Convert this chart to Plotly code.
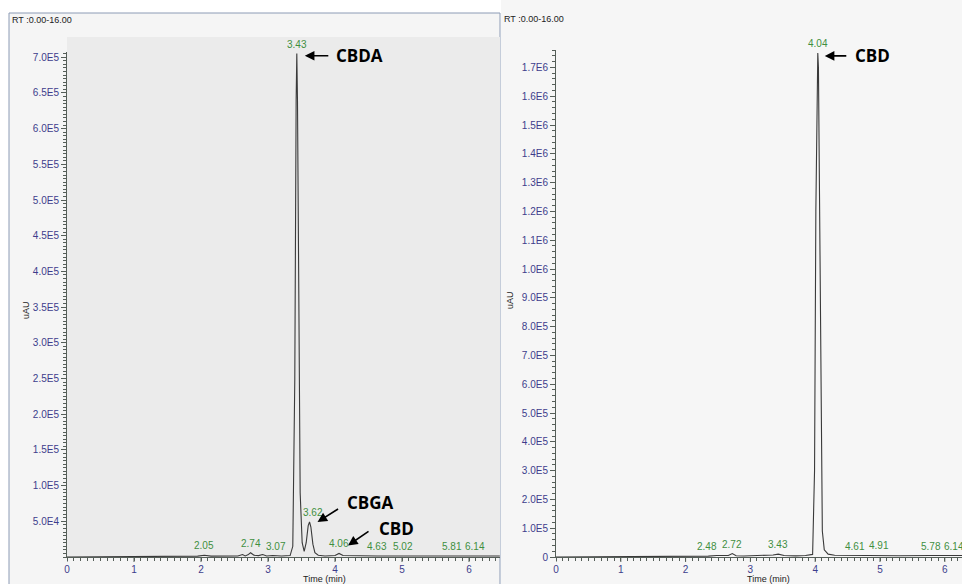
import numpy as np
import plotly.graph_objects as go

W, H = 962, 584

# ---- chromatogram A (acid-form extract) ----
left_time = [0.0, 1.5, 1.95, 2.05, 2.15, 2.55, 2.62, 2.66, 2.70, 2.74, 2.79, 2.86, 2.92, 2.98,
             3.07, 3.20, 3.33, 3.37, 3.40, 3.42, 3.43, 3.44, 3.46, 3.48, 3.51, 3.54, 3.57, 3.60,
             3.62, 3.64, 3.67, 3.70, 3.75, 3.85, 4.00, 4.06, 4.12, 4.30, 4.63, 5.02, 5.50, 5.81,
             6.14, 6.46]
left_uau = [0, 500, 1200, 2500, 1200, 1500, 3500, 1500, 3000, 6000, 2500, 2000, 3500, 1500,
            2000, 1500, 2000, 15000, 250000, 640000, 705000, 640000, 300000, 90000, 20000, 8000,
            20000, 44000, 49000, 42000, 18000, 6000, 2500, 1500, 2000, 5000, 2000, 1500, 1500,
            1500, 1500, 1500, 1500, 1500]
left_peaks = [2.05, 2.74, 3.07, 3.43, 3.62, 4.06, 4.63, 5.02, 5.81, 6.14]
left_ytickvals = [5e4, 1e5, 1.5e5, 2e5, 2.5e5, 3e5, 3.5e5, 4e5, 4.5e5, 5e5, 5.5e5, 6e5, 6.5e5, 7e5]
left_yticktext = ["5.0E4", "1.0E5", "1.5E5", "2.0E5", "2.5E5", "3.0E5", "3.5E5", "4.0E5",
                  "4.5E5", "5.0E5", "5.5E5", "6.0E5", "6.5E5", "7.0E5"]

# ---- chromatogram B (decarboxylated extract) ----
right_time = [0.0, 1.5, 2.0, 2.2, 2.35, 2.48, 2.60, 2.66, 2.72, 2.78, 2.90, 3.05, 3.20, 3.35,
              3.43, 3.52, 3.70, 3.85, 3.96, 3.99, 4.01, 4.03, 4.04, 4.05, 4.07, 4.09, 4.11, 4.14,
              4.20, 4.30, 4.61, 4.91, 5.30, 5.78, 6.14, 6.27]
right_uau = [0, 1000, 2500, 4000, 3000, 5000, 3500, 5000, 12000, 4500, 3500, 5000, 4000, 7000,
             10000, 5000, 4000, 5000, 9000, 300000, 1200000, 1700000, 1750000, 1700000, 1100000,
             400000, 90000, 25000, 10000, 6000, 5000, 6000, 4500, 5000, 5000, 5000]
right_peaks = [2.48, 2.72, 3.43, 4.04, 4.61, 4.91, 5.78, 6.14]
right_ytickvals = [0, 1e5, 2e5, 3e5, 4e5, 5e5, 6e5, 7e5, 8e5, 9e5, 1e6, 1.1e6, 1.2e6, 1.3e6,
                   1.4e6, 1.5e6, 1.6e6, 1.7e6]
right_yticktext = ["0", "1.0E5", "2.0E5", "3.0E5", "4.0E5", "5.0E5", "6.0E5", "7.0E5", "8.0E5",
                   "9.0E5", "1.0E6", "1.1E6", "1.2E6", "1.3E6", "1.4E6", "1.5E6", "1.6E6", "1.7E6"]

xtickvals = [0, 1, 2, 3, 4, 5, 6]
xticktext = ["0", "1", "2", "3", "4", "5", "6"]

# small horizontal nudges for crowded retention-time labels (pixels)
left_label_dx = {3.07: 3, 3.62: 3, 5.81: -4, 6.14: -3}
right_label_dx = {2.48: -10, 4.91: 5}


def px_x(p):
    return p / W


def px_y(p):
    return (H - p) / H


TICK_FONT = dict(family="Liberation Sans, Arial, sans-serif", size=10, color="#3d3d8c")
AXIS_COLOR = "#555e58"
TRACE_COLOR = "#3a3a3a"
PEAK_COLOR = "#3f8f3f"
BASE_PX = 557  # pixel row of both time axes

fig = go.Figure()
fig.add_trace(go.Scatter(x=left_time, y=left_uau, mode="lines",
                         line=dict(color=TRACE_COLOR, width=1.1),
                         xaxis="x", yaxis="y", showlegend=False, hoverinfo="x+y"))
fig.add_trace(go.Scatter(x=right_time, y=right_uau, mode="lines",
                         line=dict(color=TRACE_COLOR, width=1.1),
                         xaxis="x2", yaxis="y2", showlegend=False, hoverinfo="x+y"))


def axis_common():
    return dict(showgrid=False, zeroline=False, showline=True, linecolor=AXIS_COLOR,
                linewidth=1, ticks="outside", ticklen=5, tickcolor=AXIS_COLOR,
                tickfont=TICK_FONT, fixedrange=True, automargin=False)


def time_axis(domain, xmax, anchor):
    # major tick marks are drawn as shapes below so the labels sit close to the axis
    d = axis_common()
    d.update(domain=domain, range=[0, xmax], anchor=anchor, tickvals=xtickvals,
             ticktext=xticktext, ticks="", ticklabelstandoff=3,
             minor=dict(dtick=0.1, tick0=0, ticks="outside", ticklen=3, tickcolor=AXIS_COLOR))
    return d


left_x_max = (500 - 67) / 67.0
right_x_max = (962 - 556) / 64.8
left_y_max = (BASE_PX - 52) / 35.7 * 5e4
right_y_max = (BASE_PX - 50) / 28.8 * 1e5

fig.update_layout(
    width=W, height=H,
    margin=dict(l=0, r=0, t=0, b=0, pad=0),
    paper_bgcolor="white", plot_bgcolor="rgba(0,0,0,0)",
    xaxis=time_axis([px_x(67), px_x(500)], left_x_max, "y"),
    yaxis=dict(axis_common(), domain=[px_y(BASE_PX), px_y(52)], range=[0, left_y_max],
               anchor="x", tickvals=left_ytickvals, ticktext=left_yticktext,
               minor=dict(dtick=5000, tick0=0, ticks="outside", ticklen=3, tickcolor=AXIS_COLOR)),
    xaxis2=time_axis([px_x(556), 1.0], right_x_max, "y2"),
    yaxis2=dict(axis_common(), domain=[px_y(BASE_PX), px_y(50)], range=[0, right_y_max],
                anchor="x2", tickvals=right_ytickvals, ticktext=right_yticktext,
                minor=dict(dtick=20000, tick0=0, ticks="outside", ticklen=3, tickcolor=AXIS_COLOR)),
)

# panel backgrounds and frames
shapes = [
    dict(type="rect", xref="paper", yref="paper", x0=px_x(501), x1=1.0, y0=0, y1=1,
         fillcolor="#f6f6f6", line=dict(width=0), layer="below"),
    dict(type="rect", xref="paper", yref="paper", x0=px_x(9), x1=px_x(500), y0=-0.01, y1=px_y(13),
         fillcolor="#f5f5f5", line=dict(color="#8c9bb5", width=1), layer="below"),
    dict(type="rect", xref="paper", yref="paper", x0=px_x(67), x1=px_x(500), y0=px_y(BASE_PX),
         y1=px_y(37), fillcolor="#ebebeb", line=dict(width=0), layer="below"),
]
# major time ticks (longer than the minor ones)
for xr in ("x", "x2"):
    for t in xtickvals:
        shapes.append(dict(type="line", xref=xr, yref="paper", x0=t, x1=t,
                           y0=px_y(BASE_PX), y1=px_y(BASE_PX + 5),
                           line=dict(color=AXIS_COLOR, width=1)))
fig.update_layout(shapes=shapes)

ann = []

# retention-time labels above each peak
for rt in left_peaks:
    ann.append(dict(x=rt, y=float(np.interp(rt, left_time, left_uau)), xref="x", yref="y",
                    text=f"{rt:.2f}", showarrow=False, yanchor="bottom", yshift=2,
                    xshift=left_label_dx.get(rt, 0),
                    font=dict(family="Liberation Sans, Arial, sans-serif", size=10, color=PEAK_COLOR)))
for rt in right_peaks:
    ann.append(dict(x=rt, y=float(np.interp(rt, right_time, right_uau)), xref="x2", yref="y2",
                    text=f"{rt:.2f}", showarrow=False, yanchor="bottom", yshift=2,
                    xshift=right_label_dx.get(rt, 0),
                    font=dict(family="Liberation Sans, Arial, sans-serif", size=10, color=PEAK_COLOR)))

# compound callouts: arrow head beside the peak, bold name beside the tail
LABEL_FONT = dict(family="Open Sans, Noto Sans, sans-serif", size=17, color="black")


def callout(name, rt, val, xr, yr, hx, hy, ax, ay, tx, ty):
    ann.append(dict(x=rt, y=val, xref=xr, yref=yr, text="", showarrow=True,
                    xshift=hx, yshift=hy, ax=ax, ay=ay, arrowhead=2, arrowsize=1.2,
                    arrowwidth=1.6, arrowcolor="black", standoff=0))
    ann.append(dict(x=rt, y=val, xref=xr, yref=yr, text=f"<b>{name}</b>", showarrow=False,
                    xanchor="left", yanchor="middle", xshift=tx, yshift=ty, font=LABEL_FONT))


callout("CBDA", 3.43, 702000, "x", "y", 8, 0, 25, 0, 37, 0)
callout("CBGA", 3.62, 49000, "x", "y", 8, 0, 22, -14, 35, 20)
callout("CBD", 4.06, 5000, "x", "y", 9, 8, 22, -15, 38, 25)
callout("CBD", 4.04, 1740000, "x2", "y2", 7, 0, 23, 0, 35, 0)

# panel headers and axis titles
SMALL = dict(family="Liberation Sans, Arial, sans-serif", size=9, color="#222222")
ann += [
    dict(x=px_x(10), y=px_y(20), xref="paper", yref="paper", text="RT :0.00-16.00",
         showarrow=False, xanchor="left", yanchor="middle", font=SMALL),
    dict(x=px_x(502), y=px_y(19), xref="paper", yref="paper", text="RT :0.00-16.00",
         showarrow=False, xanchor="left", yanchor="middle", font=SMALL),
    dict(x=px_x(19), y=px_y(310), xref="paper", yref="paper", text="uAU", textangle=-90,
         showarrow=False, font=SMALL),
    dict(x=px_x(510), y=px_y(300), xref="paper", yref="paper", text="uAU", textangle=-90,
         showarrow=False, font=SMALL),
    dict(x=px_x(301), y=px_y(579), xref="paper", yref="paper", text="Time (min)",
         showarrow=False, yanchor="middle", font=SMALL),
    dict(x=px_x(792), y=px_y(579), xref="paper", yref="paper", text="Time (min)",
         showarrow=False, yanchor="middle", font=SMALL),
]
fig.update_layout(annotations=ann)

fig.write_html("out.html")
